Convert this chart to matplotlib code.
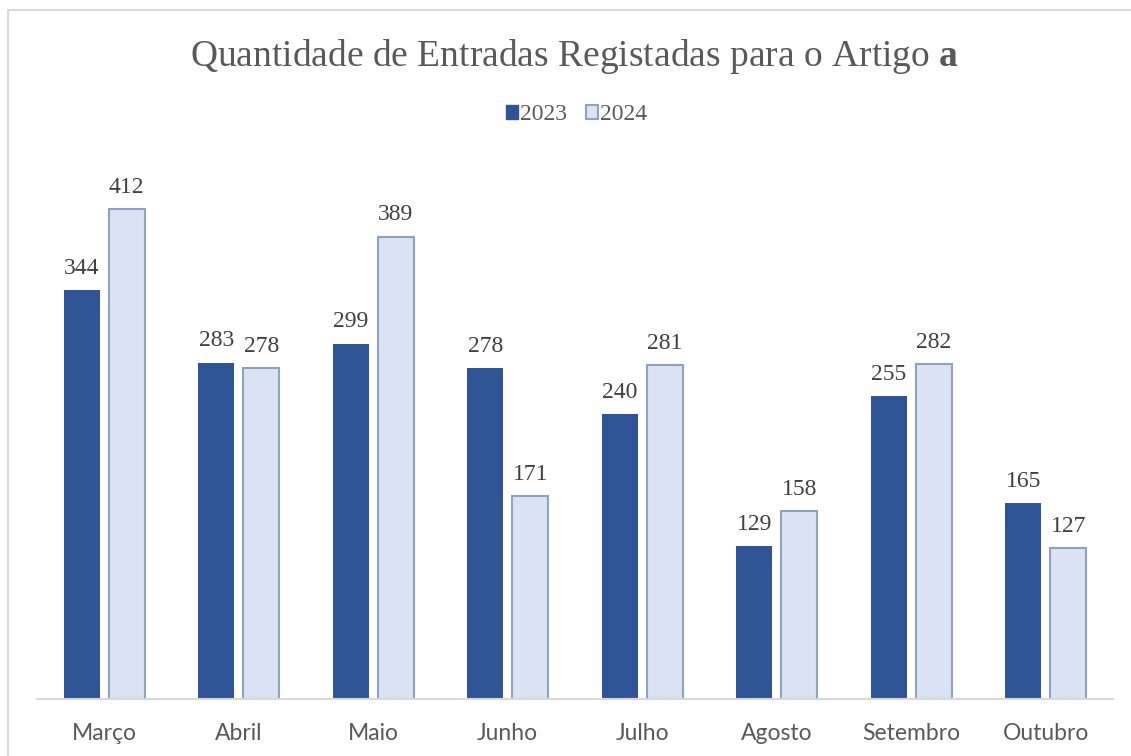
import matplotlib.pyplot as plt
import numpy as np
from matplotlib.patches import Patch
from matplotlib.lines import Line2D

plt.rcParams["mathtext.fontset"] = "custom"
plt.rcParams["mathtext.rm"] = "Liberation Serif"
plt.rcParams["mathtext.bf"] = "Liberation Serif:bold"

meses = ["Março", "Abril", "Maio", "Junho", "Julho", "Agosto", "Setembro", "Outubro"]
v2023 = [344, 283, 299, 278, 240, 129, 255, 165]
v2024 = [412, 278, 389, 171, 281, 158, 282, 127]
anos = ["2023", "2024"]

escuro = "#2F5597"
claro = "#DAE3F3"
borda = "#8FA3BF"

fig = plt.figure(figsize=(11.31, 7.56), dpi=100)
ax = fig.add_axes([37 / 1131, 1 - 699 / 756, (1113 - 37) / 1131, (699 - 164) / 756])

x = np.arange(len(meses))
w = 0.267
off = 0.167
b1 = ax.bar(x - off, v2023, w, color=escuro, zorder=2)
b2 = ax.bar(x + off, v2024, w, color=claro, edgecolor=borda, linewidth=1.5, zorder=2)

for bars in (b1, b2):
    for r in bars:
        ax.annotate(str(int(r.get_height())), (r.get_x() + r.get_width() / 2, r.get_height()),
                    xytext=(0, 8), textcoords="offset points", ha="center", va="bottom",
                    fontsize=17, family="Liberation Serif", color="#404040")

ax.set_xlim(-0.5, 7.5)
ax.set_ylim(0, 450)
ax.set_xticks(x)
ax.set_xticklabels(meses, family="Lato", fontsize=16.5, color="#595959")
ax.tick_params(axis="x", length=0, pad=17)
ax.set_yticks([])
for s in ["top", "right", "left"]:
    ax.spines[s].set_visible(False)
ax.spines["bottom"].set_color("#D9D9D9")
ax.spines["bottom"].set_linewidth(1.5)

fig.text(0.508, 1 - 56 / 756, "Quantidade de Entradas Registadas para o Artigo $\\mathbf{a}$",
         ha="center", va="center", fontsize=27, family="Liberation Serif", color="#595959")

handles = [Patch(facecolor=escuro, edgecolor=escuro),
           Patch(facecolor=claro, edgecolor=borda, linewidth=1.5)]
leg = fig.legend(handles, anos, loc="center", bbox_to_anchor=(0.51, 1 - 115 / 756), ncol=2,
                 frameon=False, handlelength=0.5, handleheight=0.5, handletextpad=0.1,
                 columnspacing=0.8, prop={"family": "Liberation Serif", "size": 17})
for t in leg.get_texts():
    t.set_color("#595959")

# moldura do gráfico
fig.add_artist(Line2D([8 / 1131, 8 / 1131], [0, 1 - 10 / 756], color="#D9D9D9", lw=1.5))
fig.add_artist(Line2D([8 / 1131, 1130 / 1131], [1 - 10 / 756, 1 - 10 / 756], color="#D9D9D9", lw=1.5))

fig.savefig("out.png", dpi=100)
